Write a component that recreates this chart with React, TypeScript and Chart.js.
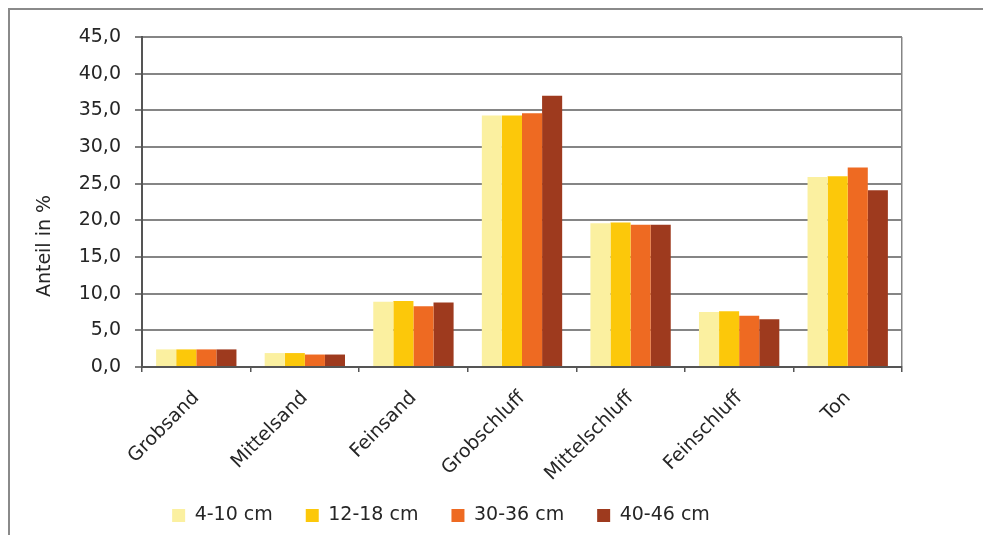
import { useEffect, useRef } from "react";
import { Chart, registerables } from "chart.js";

Chart.register(...registerables);

// Grain size fractions (x categories)
const categories = [
  "Grobsand",
  "Mittelsand",
  "Feinsand",
  "Grobschluff",
  "Mittelschluff",
  "Feinschluff",
  "Ton",
];

// Share in % per sampling depth
const depth4to10 = [2.4, 1.9, 8.9, 34.3, 19.6, 7.5, 25.9];
const depth12to18 = [2.4, 1.9, 9.0, 34.3, 19.7, 7.6, 26.0];
const depth30to36 = [2.4, 1.7, 8.3, 34.6, 19.4, 7.0, 27.2];
const depth40to46 = [2.4, 1.7, 8.8, 37.0, 19.4, 6.5, 24.1];

const seriesLabels = ["4-10 cm", "12-18 cm", "30-36 cm", "40-46 cm"];
const seriesColors = ["#FBF0A0", "#FCC80A", "#EE6A22", "#9E3A1E"];

const yAxisTitle = "Anteil in %";
const yMin = 0;
const yMax = 45;
const yStep = 5;

const FONT = "'DejaVu Sans', sans-serif";
const TEXT = "#262626";

// The x axis box is taller than its share of the layout so the rotated
// labels are not clipped; the legend is lifted by the same amount.
const X_AXIS_HEIGHT = 130;
const X_AXIS_SHARE = 106;
const LEGEND_LIFT = X_AXIS_HEIGHT - X_AXIS_SHARE;

export default function App() {
  const canvasRef = useRef<HTMLCanvasElement>(null);

  useEffect(() => {
    if (!canvasRef.current) return;

    // Y axis title, placed lower than the axis centre
    const yTitle = {
      id: "yTitle",
      afterDraw(chart: any) {
        const { ctx, chartArea } = chart;
        ctx.save();
        ctx.translate(chartArea.left - 97, chartArea.bottom - 121);
        ctx.rotate(-Math.PI / 2);
        ctx.font = `19px ${FONT}`;
        ctx.fillStyle = TEXT;
        ctx.textAlign = "center";
        ctx.textBaseline = "middle";
        ctx.fillText(yAxisTitle, 0, 0);
        ctx.restore();
      },
    };

    // Move the legend row left and up into its place below the labels
    const legendPlace = {
      id: "legendPlace",
      afterLayout(chart: any) {
        const lg = chart.legend;
        if (lg) {
          lg.left -= 15;
          lg.right -= 15;
          lg.top -= LEGEND_LIFT;
          lg.bottom -= LEGEND_LIFT;
        }
      },
    };

    const series = [depth4to10, depth12to18, depth30to36, depth40to46];

    const chart = new Chart(canvasRef.current, {
      type: "bar",
      data: {
        labels: categories,
        datasets: series.map((values, i) => ({
          label: seriesLabels[i],
          data: values,
          backgroundColor: seriesColors[i],
          borderWidth: 0,
          categoryPercentage: 0.74,
          barPercentage: 1.0,
        })),
      },
      options: {
        animation: false,
        responsive: true,
        maintainAspectRatio: false,
        layout: { padding: { top: 27, right: 91, bottom: -LEGEND_LIFT, left: 0 } },
        font: { family: FONT },
        plugins: {
          tooltip: { enabled: false },
          legend: {
            position: "bottom",
            align: "center",
            labels: {
              boxWidth: 13,
              boxHeight: 13,
              padding: 33,
              color: TEXT,
              font: { family: FONT, size: 19 },
            },
          },
        },
        scales: {
          x: {
            afterFit: (s: any) => {
              s.height = X_AXIS_HEIGHT;
            },
            grid: {
              offset: true,
              drawOnChartArea: true,
              // only the closing line on the right edge of the plot is visible
              color: (c: any) => (c.type === "tick" ? "rgba(0,0,0,0)" : "#858585"),
              lineWidth: 1.5,
              tickColor: "#555555",
              tickLength: 5,
              tickWidth: 1.5,
            },
            border: { color: "#555555", width: 2 },
            ticks: {
              color: TEXT,
              font: { family: FONT, size: 19 },
              maxRotation: 45,
              minRotation: 45,
              autoSkip: false,
              padding: 15,
            },
          },
          y: {
            min: yMin,
            max: yMax,
            afterFit: (s: any) => {
              s.width = 132;
            },
            grid: {
              color: "#858585",
              lineWidth: 2,
              tickColor: "#555555",
              tickLength: 7,
              tickWidth: 1.5,
            },
            border: { color: "#555555", width: 2 },
            ticks: {
              stepSize: yStep,
              color: TEXT,
              font: { family: FONT, size: 19 },
              padding: 14,
              callback: (v: any) => Number(v).toFixed(1).replace(".", ","),
            },
          },
        },
      },
      plugins: [yTitle, legendPlace],
    });

    return () => chart.destroy();
  }, []);

  return (
    <>
      <style>{"html, body { overflow: hidden; }"}</style>
      <div
        style={{
          position: "absolute",
          left: 8,
          top: 8,
          right: -10,
          bottom: 0,
          boxSizing: "border-box",
          borderTop: "2px solid #8a8a8a",
          borderLeft: "2px solid #8a8a8a",
          background: "#ffffff",
        }}
      >
        <canvas ref={canvasRef} />
      </div>
    </>
  );
}
